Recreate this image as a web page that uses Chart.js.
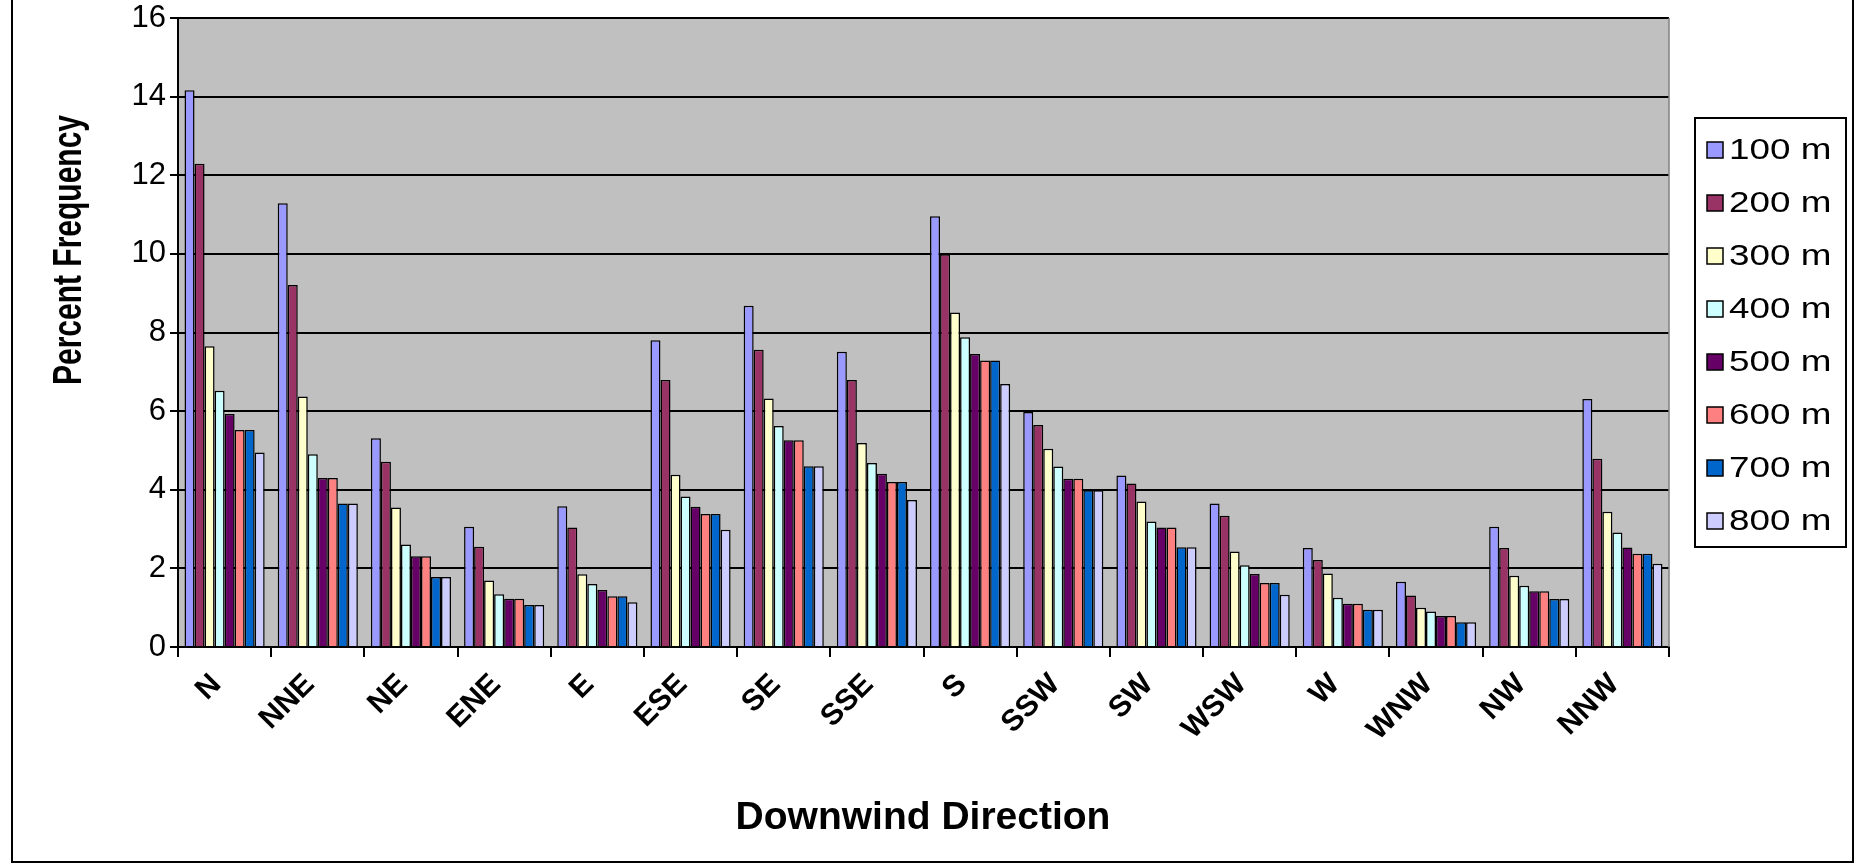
<!DOCTYPE html>
<html><head><meta charset="utf-8">
<script src="https://cdn.jsdelivr.net/npm/chart.js@4.4.1/dist/chart.umd.min.js"></script>
<style>html,body{margin:0;padding:0;background:#fff;overflow:hidden}canvas{display:block}</style>
</head><body>
<canvas id="c" width="1856" height="864" style="width:1856px;height:864px"></canvas>
<script>
const categories = ['N','NNE','NE','ENE','E','ESE','SE','SSE','S','SSW','SW','WSW','W','WNW','NW','NNW'];
const seriesLabels = ['100 m','200 m','300 m','400 m','500 m','600 m','700 m','800 m'];
const s100 = [14.16, 11.29, 5.31, 3.06, 3.58, 7.80, 8.68, 7.51, 10.96, 5.98, 4.36, 3.65, 2.52, 1.66, 3.06, 6.31];
const s200 = [12.29, 9.21, 4.71, 2.55, 3.04, 6.79, 7.56, 6.79, 9.99, 5.65, 4.16, 3.34, 2.21, 1.31, 2.52, 4.79];
const s300 = [7.65, 6.37, 3.55, 1.69, 1.85, 4.38, 6.32, 5.19, 8.51, 5.04, 3.70, 2.43, 1.87, 1.00, 1.81, 3.44];
const s400 = [6.52, 4.90, 2.61, 1.34, 1.60, 3.83, 5.62, 4.68, 7.88, 4.59, 3.19, 2.08, 1.25, 0.90, 1.56, 2.91];
const s500 = [5.93, 4.30, 2.31, 1.23, 1.45, 3.57, 5.26, 4.41, 7.45, 4.28, 3.04, 1.86, 1.10, 0.79, 1.42, 2.53];
const s600 = [5.52, 4.30, 2.31, 1.23, 1.29, 3.38, 5.26, 4.20, 7.29, 4.28, 3.04, 1.63, 1.10, 0.79, 1.42, 2.37];
const s700 = [5.52, 3.65, 1.78, 1.07, 1.29, 3.38, 4.60, 4.20, 7.29, 3.99, 2.54, 1.63, 0.95, 0.63, 1.22, 2.37];
const s800 = [4.95, 3.65, 1.78, 1.07, 1.14, 2.98, 4.60, 3.74, 6.69, 3.99, 2.54, 1.33, 0.95, 0.63, 1.22, 2.12];
const yTicks = [0, 2, 4, 6, 8, 10, 12, 14, 16];
const seriesColors = ['#9999FF','#993366','#FFFFCC','#CCFFFF','#660066','#FF8080','#0066CC','#CCCCFF'];
const xTitle = 'Downwind Direction';
const yTitle = 'Percent Frequency';

const seriesValues = [s100, s200, s300, s400, s500, s600, s700, s800];
const FONT = '"Liberation Sans", Arial, sans-serif';

const bgPlugin = {
  id: 'bg',
  beforeDraw(chart) {
    const {ctx, chartArea: a} = chart;
    ctx.save();
    ctx.fillStyle = '#fff';
    ctx.fillRect(0, 0, chart.width, chart.height);
    ctx.fillStyle = '#C0C0C0';
    ctx.fillRect(a.left, a.top, a.right - a.left, a.bottom - a.top);
    ctx.restore();
  }
};

const decorPlugin = {
  id: 'decor',
  afterDraw(chart) {
    const {ctx, chartArea: a} = chart;
    ctx.save();
    ctx.strokeStyle = '#808080';
    ctx.lineWidth = 1.5;
    ctx.beginPath();
    ctx.moveTo(a.right, a.top);
    ctx.lineTo(a.right, a.bottom);
    ctx.stroke();
    ctx.strokeStyle = '#000';
    ctx.lineWidth = 2;
    ctx.strokeRect(12, -5, 1853 - 12, 862 + 5);
    // y title (slightly widened glyphs like the reference)
    ctx.fillStyle = '#000';
    ctx.font = 'bold 30px ' + FONT;
    ctx.textAlign = 'center';
    ctx.textBaseline = 'middle';
    ctx.save();
    ctx.translate(70, 250);
    ctx.rotate(-Math.PI / 2);
    ctx.scale(1, 1.35);
    ctx.fillText(yTitle, 0, 0);
    ctx.restore();
    // x title
    ctx.font = 'bold 39px ' + FONT;
    ctx.fillText(xTitle, 923, 818);
    // legend
    const lx = 1695, ly = 118, lw = 151, lh = 429;
    ctx.fillStyle = '#fff';
    ctx.fillRect(lx, ly, lw, lh);
    ctx.strokeStyle = '#000';
    ctx.lineWidth = 2;
    ctx.strokeRect(lx, ly, lw, lh);
    ctx.font = '29px ' + FONT;
    ctx.textAlign = 'left';
    ctx.textBaseline = 'middle';
    chart.data.datasets.forEach((ds, i) => {
      const cy = 150 + i * 53;
      ctx.fillStyle = ds.backgroundColor;
      ctx.fillRect(1707, cy - 8, 16, 16);
      ctx.strokeStyle = '#000';
      ctx.lineWidth = 1.5;
      ctx.strokeRect(1707, cy - 8, 16, 16);
      ctx.fillStyle = '#000';
      ctx.save();
      ctx.translate(1729, cy + 1);
      ctx.scale(1.27, 1);
      ctx.fillText(ds.label, 0, 0);
      ctx.restore();
    });
    ctx.restore();
  }
};

new Chart(document.getElementById('c').getContext('2d'), {
  type: 'bar',
  data: {
    labels: categories,
    datasets: seriesValues.map((v, i) => ({
      label: seriesLabels[i],
      data: v,
      backgroundColor: seriesColors[i],
      borderColor: '#000',
      borderWidth: 1.5,
      borderSkipped: 'bottom',
      categoryPercentage: 0.86,
      barPercentage: 1
    }))
  },
  options: {
    responsive: false,
    animation: false,
    devicePixelRatio: 1,
    layout: {padding: {left: 0, top: 18, right: 187, bottom: 0}},
    plugins: {legend: {display: false}, tooltip: {enabled: false}, title: {display: false}},
    scales: {
      x: {
        grid: {display: true, offset: true, drawOnChartArea: false, drawTicks: true, tickLength: 10, color: '#000', lineWidth: 2},
        border: {display: true, color: '#000', width: 2},
        ticks: {minRotation: 45, maxRotation: 45, autoSkip: false, font: {family: FONT, size: 30, weight: 'bold'}, color: '#000', padding: 10, labelOffset: -8},
        afterFit(s) { s.height = 217; s.paddingLeft = 0; s.paddingRight = 0; }
      },
      y: {
        min: 0, max: 16,
        afterBuildTicks(s) { s.ticks = yTicks.map(v => ({value: v})); },
        ticks: {font: {family: FONT, size: 31}, color: '#000', padding: 4},
        grid: {color: '#000', lineWidth: 2, tickLength: 8},
        border: {color: '#000', width: 2},
        afterFit(s) { s.width = 178; s.paddingTop = 0; s.paddingBottom = 0; }
      }
    }
  },
  plugins: [bgPlugin, decorPlugin]
});
</script>
</body></html>
